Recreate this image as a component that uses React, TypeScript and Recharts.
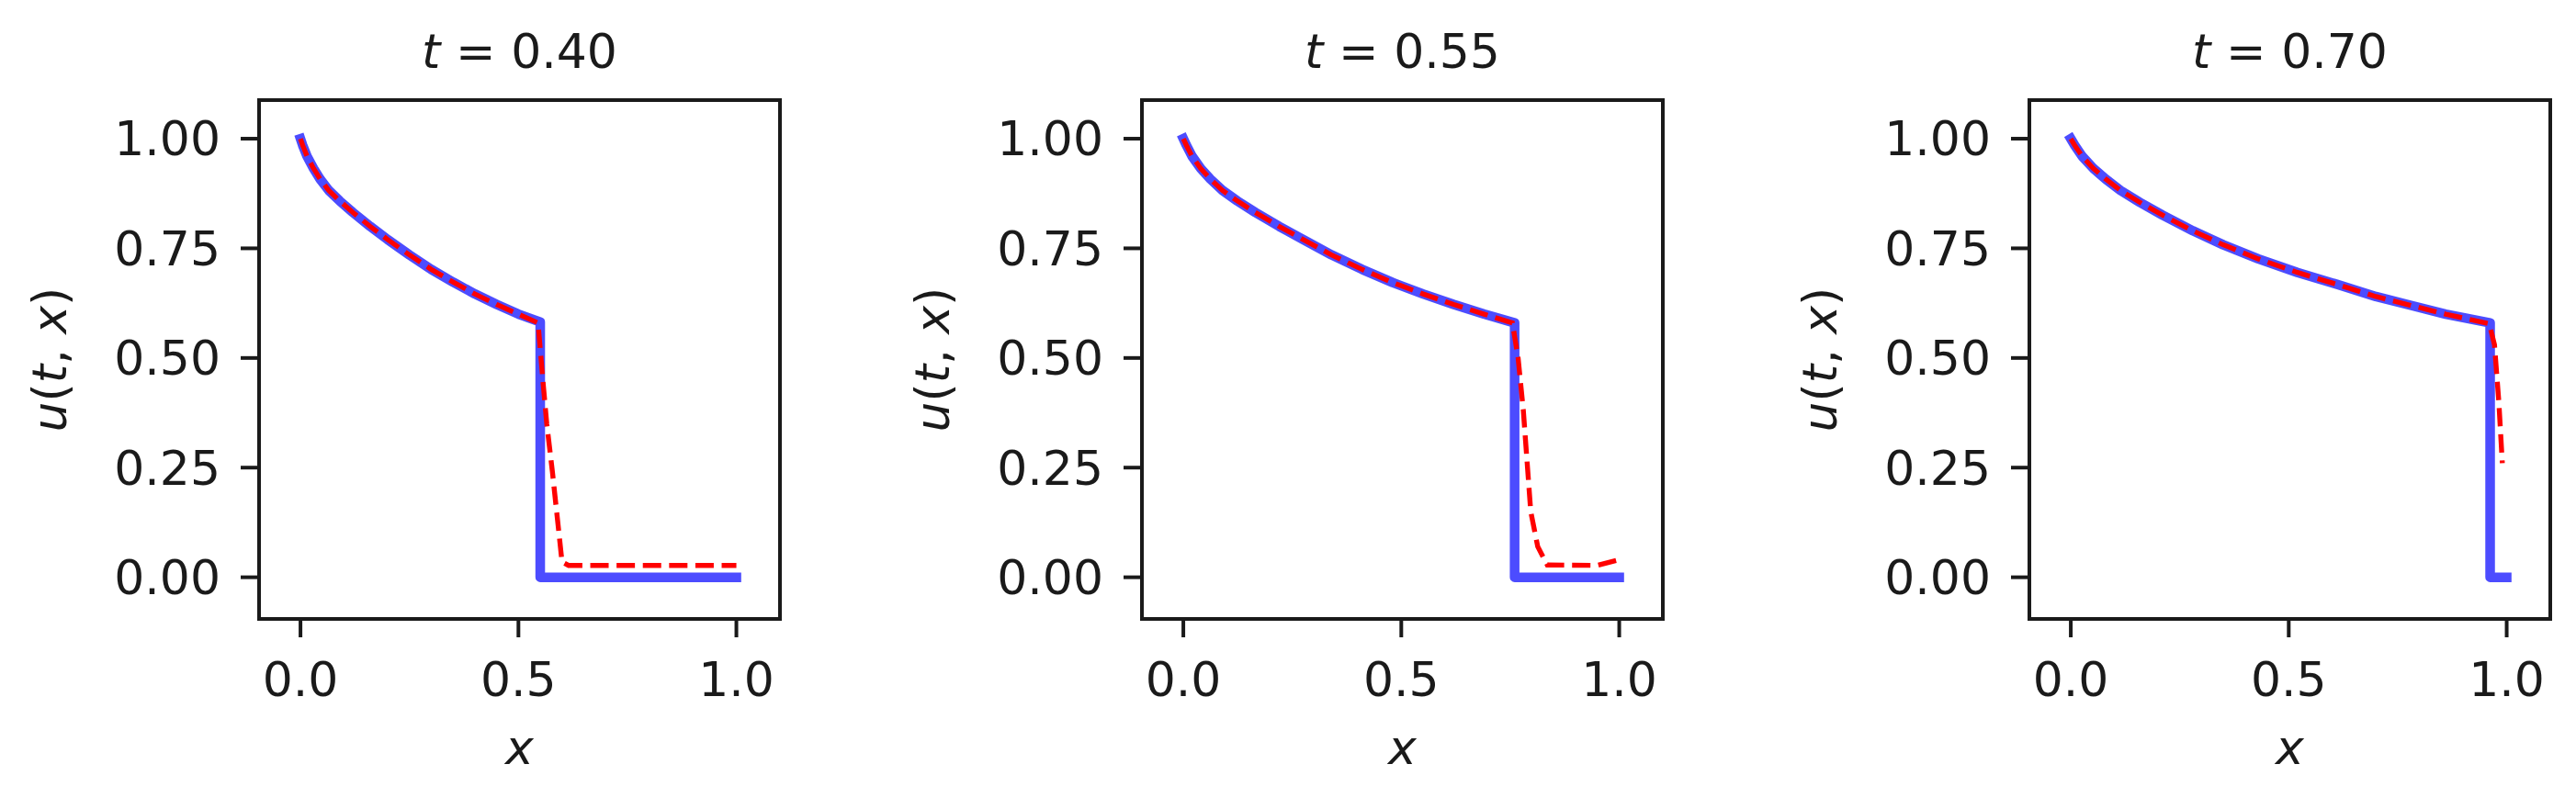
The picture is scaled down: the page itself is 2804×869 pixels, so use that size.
import React from "react"
import { LineChart, Line, XAxis, YAxis, ReferenceArea } from "recharts"

const FONT = "DejaVu Sans"
const INK = "#1a1a1a"
const BLUE = "#0000ff"
const RED = "#ff0000"

const X_TICKS = [0, 0.5, 1]
const Y_TICKS = [0, 0.25, 0.5, 0.75, 1]
const X_DOMAIN: [number, number] = [-0.095, 1.1]
const Y_DOMAIN: [number, number] = [-0.095, 1.088]

// t = 0.40
const T40_EXACT_X = [0, 0.005, 0.015, 0.03, 0.045, 0.065, 0.09, 0.12, 0.16, 0.2, 0.25, 0.3, 0.35, 0.4, 0.45, 0.5, 0.55, 0.55, 1.0]
const T40_EXACT_U = [1.0, 0.985, 0.96, 0.932, 0.908, 0.882, 0.858, 0.832, 0.8, 0.77, 0.735, 0.702, 0.673, 0.646, 0.622, 0.6, 0.582, 0, 0]
const T40_PRED_X = [0, 0.005, 0.015, 0.03, 0.045, 0.065, 0.09, 0.12, 0.16, 0.2, 0.25, 0.3, 0.35, 0.4, 0.45, 0.5, 0.545, 0.556, 0.565, 0.578, 0.6, 0.615, 1.0]
const T40_PRED_U = [1.0, 0.985, 0.96, 0.932, 0.908, 0.882, 0.858, 0.832, 0.8, 0.77, 0.735, 0.702, 0.673, 0.646, 0.622, 0.6, 0.58, 0.45, 0.35, 0.24, 0.035, 0.027, 0.027]

// t = 0.55
const T55_EXACT_X = [0, 0.007, 0.02, 0.04, 0.062, 0.09, 0.124, 0.165, 0.22, 0.275, 0.34, 0.41, 0.48, 0.55, 0.62, 0.69, 0.76, 0.76, 1.0]
const T55_EXACT_U = [1.0, 0.985, 0.96, 0.932, 0.908, 0.882, 0.858, 0.832, 0.8, 0.77, 0.735, 0.702, 0.672, 0.646, 0.622, 0.6, 0.58, 0, 0]
const T55_PRED_X = [0, 0.007, 0.02, 0.04, 0.062, 0.09, 0.124, 0.165, 0.22, 0.275, 0.34, 0.41, 0.48, 0.55, 0.62, 0.69, 0.755, 0.768, 0.78, 0.797, 0.813, 0.835, 0.95, 1.0]
const T55_PRED_U = [1.0, 0.985, 0.96, 0.932, 0.908, 0.882, 0.858, 0.832, 0.8, 0.77, 0.735, 0.702, 0.672, 0.646, 0.622, 0.6, 0.58, 0.5, 0.38, 0.15, 0.07, 0.028, 0.027, 0.04]

// t = 0.70
const T70_EXACT_X = [0, 0.009, 0.026, 0.052, 0.08, 0.114, 0.158, 0.21, 0.28, 0.35, 0.43, 0.52, 0.61, 0.7, 0.78, 0.86, 0.962, 0.962, 1.0]
const T70_EXACT_U = [1.0, 0.985, 0.96, 0.932, 0.908, 0.882, 0.855, 0.826, 0.79, 0.758, 0.726, 0.695, 0.668, 0.64, 0.62, 0.6, 0.58, 0, 0]
const T70_PRED_X = [0, 0.009, 0.026, 0.052, 0.08, 0.114, 0.158, 0.21, 0.28, 0.35, 0.43, 0.52, 0.61, 0.7, 0.78, 0.86, 0.96, 0.972, 0.982, 0.99]
const T70_PRED_U = [1.0, 0.985, 0.96, 0.932, 0.908, 0.882, 0.855, 0.826, 0.79, 0.758, 0.726, 0.695, 0.668, 0.64, 0.62, 0.6, 0.578, 0.53, 0.4, 0.26]

const rows = (xs: number[], us: number[]) => xs.map((x, i) => ({ x, u: us[i] }))

const PANELS = [
  { t: "0.40", left: 0, exact: rows(T40_EXACT_X, T40_EXACT_U), pred: rows(T40_PRED_X, T40_PRED_U) },
  { t: "0.55", left: 961, exact: rows(T55_EXACT_X, T55_EXACT_U), pred: rows(T55_PRED_X, T55_PRED_U) },
  { t: "0.70", left: 1927, exact: rows(T70_EXACT_X, T70_EXACT_U), pred: rows(T70_PRED_X, T70_PRED_U) },
]

const textStyle = { fontSize: 52, fontFamily: FONT, fill: INK }

function Panel({ t, exact, pred }: { t: string; exact: any[]; pred: any[] }) {
  const title = (props: any) => {
    const vb = props.viewBox ?? { x: 282, y: 109, width: 567, height: 565 }
    return (
      <text x={vb.x + vb.width / 2} y={vb.y - 35} textAnchor="middle" {...textStyle}>
        <tspan fontStyle="italic">t</tspan> = {t}
      </text>
    )
  }
  const xLabel = (props: any) => {
    const vb = props.viewBox ?? { x: 282, y: 674, width: 567, height: 195 }
    return (
      <text x={vb.x + vb.width / 2} y={vb.y + 158} textAnchor="middle" {...textStyle} fontStyle="italic">
        x
      </text>
    )
  }
  const yLabel = (props: any) => {
    const vb = props.viewBox ?? { x: 0, y: 109, width: 282, height: 565 }
    const cx = vb.x + vb.width - 210
    const cy = vb.y + vb.height / 2
    return (
      <text x={cx} y={cy} transform={`rotate(-90, ${cx}, ${cy})`} textAnchor="middle" {...textStyle}>
        <tspan fontStyle="italic">u</tspan>(<tspan fontStyle="italic">t</tspan>, <tspan fontStyle="italic">x</tspan>)
      </text>
    )
  }

  return (
    <LineChart width={869} height={869} margin={{ top: 109, right: 20, bottom: 0, left: 0 }}>
      <XAxis
        type="number"
        dataKey="x"
        domain={X_DOMAIN}
        ticks={X_TICKS}
        allowDataOverflow
        height={195}
        axisLine={false}
        tickLine={{ stroke: INK, strokeWidth: 4 }}
        tickSize={20}
        tickMargin={27}
        tick={textStyle}
        tickFormatter={(v) => Number(v).toFixed(1)}
        label={xLabel}
      />
      <YAxis
        type="number"
        domain={Y_DOMAIN}
        ticks={Y_TICKS}
        allowDataOverflow
        width={282}
        axisLine={false}
        tickLine={{ stroke: INK, strokeWidth: 4 }}
        tickSize={20}
        tickMargin={22}
        tick={textStyle}
        tickFormatter={(v) => Number(v).toFixed(2)}
        label={yLabel}
      />
      <ReferenceArea
        x1={X_DOMAIN[0]}
        x2={X_DOMAIN[1]}
        y1={Y_DOMAIN[0]}
        y2={Y_DOMAIN[1]}
        fill="none"
        fillOpacity={0}
        stroke={INK}
        strokeWidth={4}
        ifOverflow="visible"
        label={title}
      />
      <Line
        data={exact}
        dataKey="u"
        type="linear"
        stroke={BLUE}
        strokeOpacity={0.7}
        strokeWidth={10.5}
        strokeLinejoin="round"
        strokeLinecap="square"
        dot={false}
        activeDot={false}
        isAnimationActive={false}
      />
      <Line
        data={pred}
        dataKey="u"
        type="linear"
        stroke={RED}
        strokeWidth={5.4}
        strokeDasharray="20 8.6"
        dot={false}
        activeDot={false}
        isAnimationActive={false}
      />
    </LineChart>
  )
}

export default function App() {
  return (
    <div style={{ position: "absolute", left: 0, top: 0, width: 2804, height: 869, background: "#fff", overflow: "hidden" }}>
      {PANELS.map((p) => (
        <div key={p.t} style={{ position: "absolute", left: p.left, top: 0 }}>
          <Panel t={p.t} exact={p.exact} pred={p.pred} />
        </div>
      ))}
    </div>
  )
}
